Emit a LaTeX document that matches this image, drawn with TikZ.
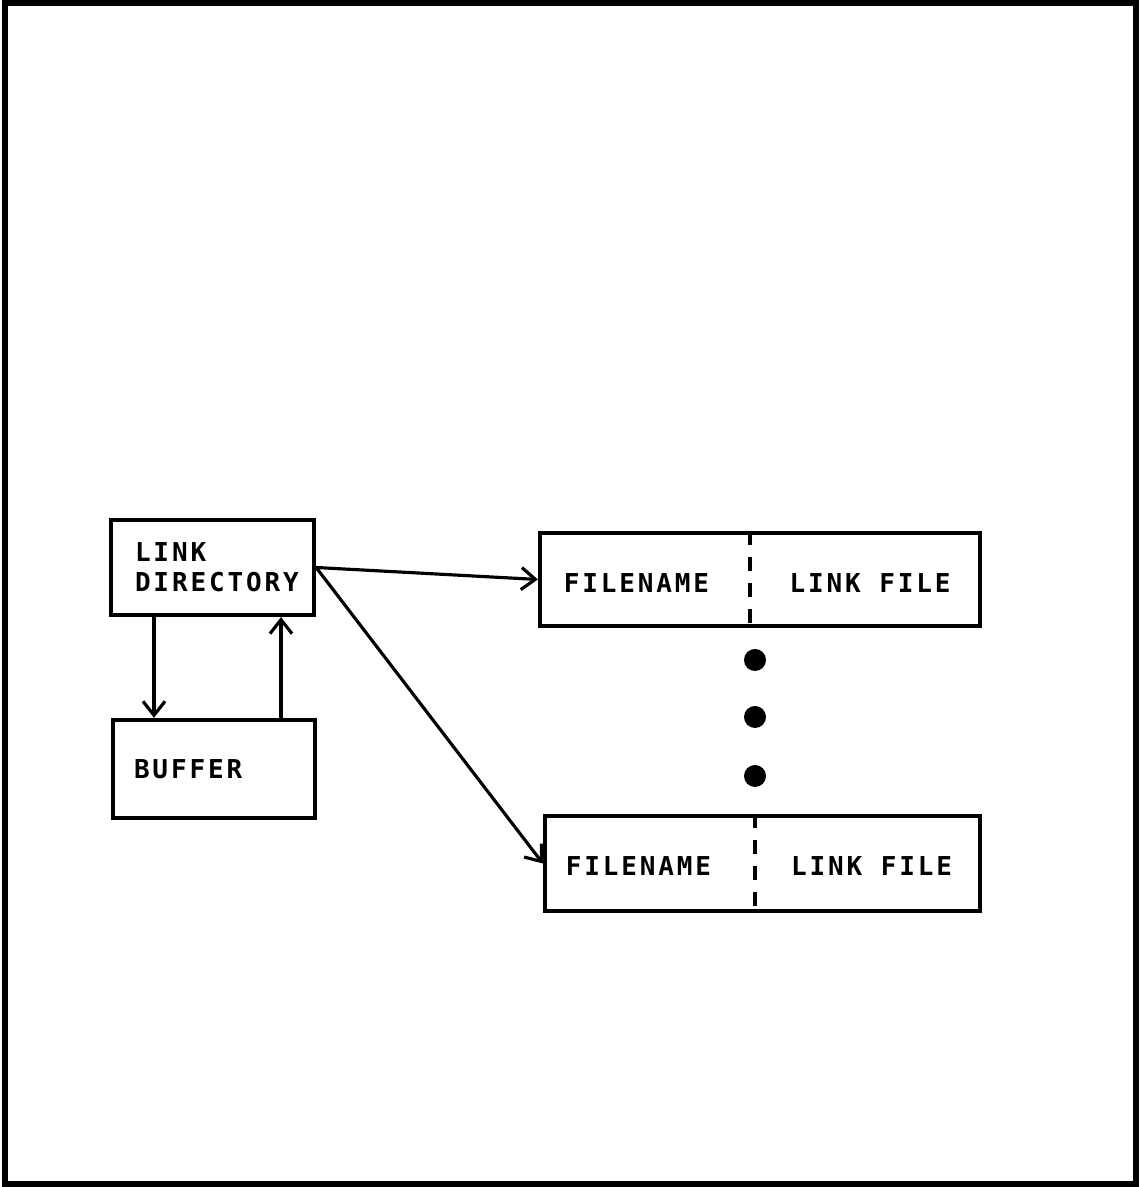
\documentclass[tikz,border=0pt]{standalone}
\usepackage{fontspec}
\usetikzlibrary{arrows.meta}
\newfontfamily\dirfont[LetterSpace=11]{DejaVu Sans Mono}

\tikzset{
  box/.style={draw, line width=1.2pt, inner sep=0pt},
  flow/.style={line width=0.9pt, -{Straight Barb[length=1.4mm, width=2.2mm, line width=0.9pt]}},
  lbl/.style={font=\dirfont\bfseries\fontsize{7.4}{8.6}\selectfont}
}

\begin{document}
\begin{tikzpicture}

  \useasboundingbox (0,0) rectangle (11.41,11.87);
  % outer frame
  \draw[line width=1.5pt] (0.05,0.03) rectangle (11.36,11.84);

  % directory and its buffer
  \node[box, lbl, minimum width=2.03cm, minimum height=0.95cm, text width=1.55cm, align=left,
        inner xsep=0.24cm] (ldir) at (2.125,6.195) {LINK\\DIRECTORY};
  \node[box, lbl, minimum width=2.02cm, minimum height=0.98cm, text width=1.6cm, align=left,
        inner xsep=0.2cm] (buf) at (2.14,4.18) {BUFFER};

  \coordinate (dn) at (1.54,0);
  \coordinate (up) at (2.81,0);
  \draw[flow] (ldir.south -| dn) -- (buf.north -| dn);
  \draw[flow] (buf.north -| up) -- (ldir.south -| up);

  % link file entries
  \node[box, minimum width=4.40cm, minimum height=0.93cm] (ent1) at (7.60,6.075) {};
  \node[box, minimum width=4.35cm, minimum height=0.95cm] (ent2) at (7.625,3.235) {};

  \node[lbl] (fn1) at (6.365,6.04) {FILENAME};
  \node[lbl] (lf1) at (8.70,6.04) {LINK FILE};
  \node[lbl] (fn2) at (6.385,3.21) {FILENAME};
  \node[lbl] (lf2) at (8.715,3.21) {LINK FILE};

  \coordinate (div1) at (7.50,0);
  \coordinate (div2) at (7.55,0);
  \draw[line width=1pt, dash pattern=on 1.4mm off 1.2mm] (ent1.north -| div1) -- (ent1.south -| div1);
  \draw[line width=1pt, dash pattern=on 1.4mm off 1.2mm] (ent2.north -| div2) -- (ent2.south -| div2);

  % more entries in between
  \foreach \y in {5.27,4.70,4.11}
    \fill (7.55,\y) circle (0.11);

  % directory points to the entries
  \draw[flow] (ldir.east) -- (ent1.west);
  \draw[flow] (ldir.east) -- (ent2.west);

\end{tikzpicture}
\end{document}
